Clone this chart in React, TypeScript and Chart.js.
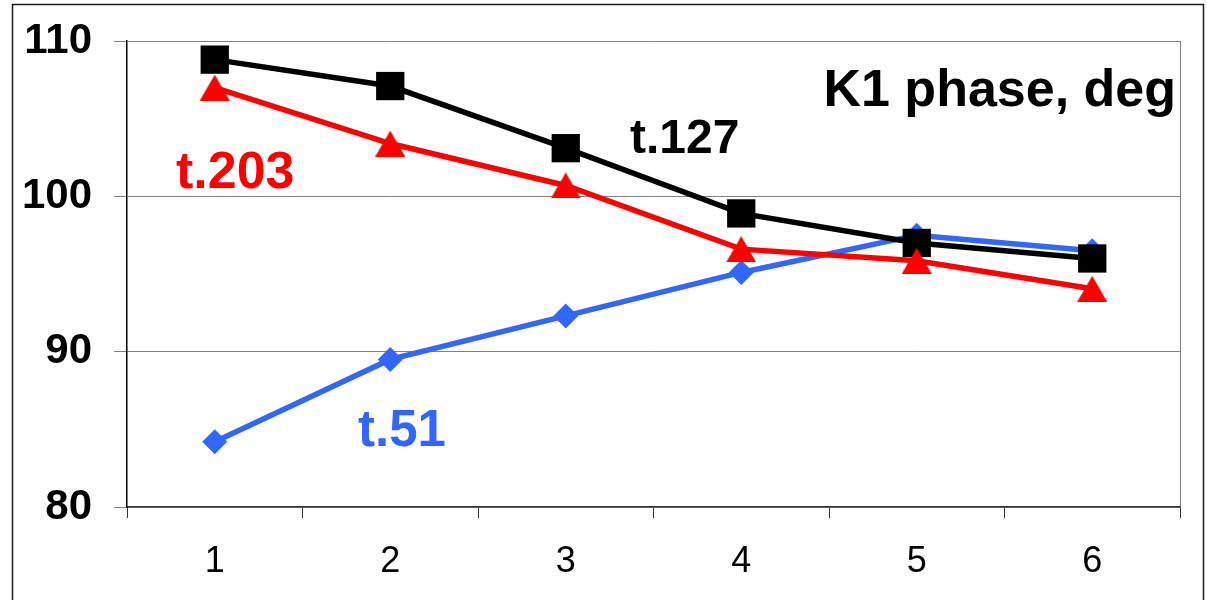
import React, { useEffect, useRef } from 'react';
import { Chart, registerables } from 'chart.js';

Chart.register(...registerables);

// Station numbers along the x axis
const categories = ['1', '2', '3', '4', '5', '6'];
// K1 phase (deg) for each track
const t127 = [108.8, 107.1, 103.1, 98.9, 97.0, 96.0];
const t203 = [107.0, 103.4, 100.7, 96.6, 95.85, 94.05];
const t51 = [84.2, 89.5, 92.3, 95.1, 97.5, 96.5];
// Value axis range and step
const yMin = 80;
const yMax = 110;
const yStep = 10;

const FONT = '"Liberation Sans", Arial, Helvetica, sans-serif';
const BLUE = '#3366ff';
const RED = '#ff0000';
const BLACK = '#000000';

// Triangle marker centred on its bounding box
function makeTriangle(color: string, w: number, h: number): HTMLCanvasElement {
  const c = document.createElement('canvas');
  c.width = w;
  c.height = h;
  const ctx = c.getContext('2d')!;
  ctx.fillStyle = color;
  ctx.beginPath();
  ctx.moveTo(w / 2, 0);
  ctx.lineTo(w, h);
  ctx.lineTo(0, h);
  ctx.closePath();
  ctx.fill();
  return c;
}

const decorPlugin = {
  id: 'decor',
  beforeDraw(chart: any) {
    const { ctx, chartArea } = chart;
    ctx.save();
    // outer frame
    ctx.strokeStyle = '#1a1a1a';
    ctx.lineWidth = 1.5;
    ctx.strokeRect(12.5, 4.5, 1191, 700);
    ctx.restore();
    ctx.save();
    // right edge of plot area
    ctx.strokeStyle = '#808080';
    ctx.lineWidth = 1;
    ctx.beginPath();
    ctx.moveTo(Math.round(chartArea.right) + 0.5, chartArea.top);
    ctx.lineTo(Math.round(chartArea.right) + 0.5, chartArea.bottom);
    ctx.stroke();
    ctx.restore();
  },
  afterDatasetsDraw(chart: any) {
    const { ctx } = chart;
    ctx.save();
    ctx.textBaseline = 'alphabetic';
    ctx.font = `bold 52px ${FONT}`;
    ctx.fillStyle = BLACK;
    ctx.textAlign = 'right';
    ctx.fillText('K1 phase, deg', 1176, 106);
    ctx.textAlign = 'left';
    ctx.font = `bold 48px ${FONT}`;
    ctx.fillText('t.127', 630, 153);
    ctx.font = `bold 52px ${FONT}`;
    ctx.fillStyle = RED;
    ctx.fillText('t.203', 176, 188);
    ctx.font = `bold 51px ${FONT}`;
    ctx.fillStyle = BLUE;
    ctx.fillText('t.51', 358, 446);
    ctx.restore();
  },
};

export default function App() {
  const canvasRef = useRef<HTMLCanvasElement | null>(null);

  useEffect(() => {
    document.body.style.margin = '0';
    const canvas = canvasRef.current;
    if (!canvas) return;
    const tri = makeTriangle(RED, 30, 26);

    const chart = new Chart(canvas, {
      type: 'line',
      data: {
        labels: categories,
        datasets: [
          {
            label: 't.203',
            data: t203,
            borderColor: RED,
            backgroundColor: RED,
            borderWidth: 5.5,
            pointStyle: tri as any,
            pointRadius: 15,
            pointBorderWidth: 0,
            tension: 0,
          },
          {
            label: 't.127',
            data: t127,
            borderColor: BLACK,
            backgroundColor: BLACK,
            borderWidth: 5.5,
            pointStyle: 'rect',
            pointRadius: 20,
            pointBorderWidth: 0,
            tension: 0,
          },
          {
            label: 't.51',
            data: t51,
            borderColor: BLUE,
            backgroundColor: BLUE,
            borderWidth: 5.5,
            pointStyle: 'rectRot',
            pointRadius: 12.5,
            pointBorderWidth: 0,
            tension: 0,
          },
        ],
      },
      options: {
        animation: false,
        responsive: false,
        devicePixelRatio: 1,
        layout: { padding: { left: 0, top: 41, right: 27, bottom: 0 } },
        plugins: {
          legend: { display: false },
          tooltip: { enabled: false },
        },
        scales: {
          x: {
            offset: true,
            grid: {
              offset: true,
              drawOnChartArea: false,
              tickLength: 11,
              color: '#333333',
              lineWidth: 1,
            },
            border: { color: '#333333', width: 1.5 },
            ticks: {
              font: { family: FONT, size: 36 },
              color: BLACK,
              padding: 22,
            },
            afterFit: (s: any) => {
              s.height = 93;
              s.paddingLeft = 0;
              s.paddingRight = 0;
            },
          },
          y: {
            min: yMin,
            max: yMax,
            ticks: {
              stepSize: yStep,
              font: { family: FONT, size: 42, weight: 'bold' },
              color: BLACK,
              padding: 22,
            },
            grid: { color: '#808080', tickLength: 13, lineWidth: 1 },
            border: { color: BLACK, width: 1.5 },
            afterFit: (s: any) => {
              s.width = 127;
              s.paddingTop = 0;
              s.paddingBottom = 0;
            },
          },
        },
      },
      plugins: [decorPlugin],
    });

    return () => {
      chart.destroy();
    };
  }, []);

  return (
    <canvas
      ref={canvasRef}
      width={1207}
      height={600}
      style={{ display: 'block', width: 1207, height: 600 }}
    />
  );
}
